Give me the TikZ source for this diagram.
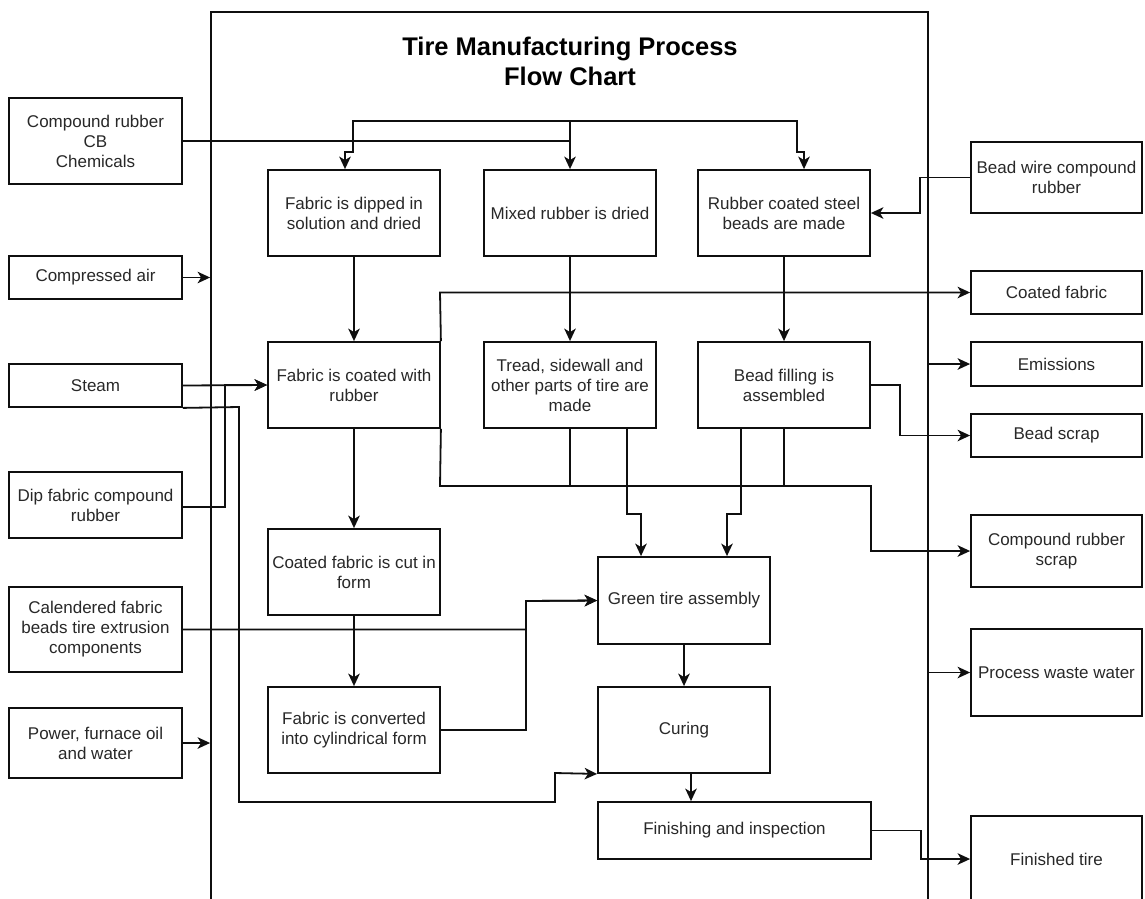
\documentclass[tikz,border=0pt]{standalone}
\usepackage{fontspec}
\setmainfont{Liberation Sans}
\usetikzlibrary{arrows.meta}
\definecolor{txt}{RGB}{40,40,40}
\definecolor{ln}{RGB}{15,15,15}
\begin{document}
\begin{tikzpicture}[x=1pt,y=-1pt,
  box/.style={draw=ln, line width=1.8pt, inner sep=0pt, align=center, text=txt,
    font=\fontsize{17}{20}\selectfont},
  ln/.style={draw=ln, line width=1.8pt},
  arr/.style={ln, -{Stealth[length=12.5pt,width=11.5pt,inset=3.5pt]}}]
\useasboundingbox (0,0) rectangle (1145,898);
\clip (0,0) rectangle (1145,898);
\fill[white] (0,0) rectangle (1145,898);

% frame
\node[draw=ln, line width=1.8pt, inner sep=0pt, minimum width=717pt, minimum height=900pt] (frame) at (569.5,462) {};

% title
\node[align=center, font=\fontsize{25.5}{30}\selectfont\bfseries] (title) at (570,61) {Tire Manufacturing Process\\Flow Chart};

% left inputs
\node[box, minimum width=173pt, minimum height=86pt] (cr) at (95.5,141) {Compound rubber\\CB\\Chemicals};
\node[box, minimum width=173pt, minimum height=43pt] (air) at (95.5,277.5) {Compressed air};
\node[box, minimum width=173pt, minimum height=43pt] (steam) at (95.5,385.5) {Steam};
\node[box, minimum width=173pt, minimum height=66pt] (dip) at (95.5,505) {Dip fabric compound\\rubber};
\node[box, minimum width=173pt, minimum height=85pt] (cal) at (95.5,629.5) {Calendered fabric\\beads tire extrusion\\components};
\node[box, minimum width=173pt, minimum height=70pt] (pow) at (95.5,743) {Power, furnace oil\\and water};

% process boxes
\node[box, minimum width=172pt, minimum height=86pt] (dip2) at (354,213) {Fabric is dipped in\\solution and dried};
\node[box, minimum width=172pt, minimum height=86pt] (mix) at (570,213) {Mixed rubber is dried};
\node[box, minimum width=172pt, minimum height=86pt] (bead) at (784,213) {Rubber coated steel\\beads are made};
\node[box, minimum width=172pt, minimum height=86pt] (coat) at (354,385) {Fabric is coated with\\rubber};
\node[box, minimum width=172pt, minimum height=86pt] (tread) at (570,385) {Tread, sidewall and\\other parts of tire are\\made};
\node[box, minimum width=172pt, minimum height=86pt] (fill) at (784,385) {Bead filling is\\assembled};
\node[box, minimum width=172pt, minimum height=86pt] (cut) at (354,572) {Coated fabric is cut in\\form};
\node[box, minimum width=172pt, minimum height=86pt] (conv) at (354,730) {Fabric is converted\\into cylindrical form};
\node[box, minimum width=172pt, minimum height=87pt] (green) at (684,600.5) {Green tire assembly};
\node[box, minimum width=172pt, minimum height=86pt] (cure) at (684,730) {Curing};
\node[box, minimum width=273pt, minimum height=57pt] (fin) at (734.5,830.5) {Finishing and inspection};

% right outputs
\node[box, minimum width=171pt, minimum height=71pt] (bw) at (1056.5,177.5) {Bead wire compound\\rubber};
\node[box, minimum width=171pt, minimum height=43pt] (cf) at (1056.5,292.5) {Coated fabric};
\node[box, minimum width=171pt, minimum height=44pt] (em) at (1056.5,364) {Emissions};
\node[box, minimum width=171pt, minimum height=43pt] (bs) at (1056.5,435.5) {Bead scrap};
\node[box, minimum width=171pt, minimum height=72pt] (crs) at (1056.5,551) {Compound rubber\\scrap};
\node[box, minimum width=171pt, minimum height=87pt] (pww) at (1056.5,672.5) {Process waste water};
\node[box, minimum width=171pt, minimum height=86pt] (ft) at (1056.5,859) {Finished tire};

% compound rubber distribution
\draw[arr] (cr.east) -- (570,141) -- (570,121) -- (353,121) -- (353,152) -- (345,152) -- ([xshift=-9pt]dip2.north);
\draw[arr] (570,121) -- (mix.north);
\draw[arr] (570,121) -- (797,121) -- (797,152) -- (804,152) -- ([xshift=20pt]bead.north);
\draw[arr] (bw.west) -- (920,177.5) -- (920,213) -- (bead.east);

% vertical flows
\draw[arr] (dip2.south) -- (coat.north);
\draw[arr] (mix.south) -- (tread.north);
\draw[arr] (bead.south) -- (fill.north);
\draw[arr] (coat.south) -- (cut.north);
\draw[arr] (cut.south) -- (conv.north);
\draw[arr] (green.south) -- (cure.north);
\draw[arr] ([xshift=7pt]cure.south) -- ([xshift=7pt]cure.south |- fin.north);

% outputs
\draw[arr] (coat.north east) -- (440,292.5) -- (cf.west);
\draw[arr] (coat.south east) -- (440,486) -- (871,486) -- (871,551) -- (crs.west);
\draw[ln] (tread.south) -- (570,486);
\draw[ln] (fill.south) -- (784,486);
\draw[arr] (fill.east) -- (900,385) -- (900,435.5) -- (bs.west);
\draw[arr] (em.west -| frame.east) -- (em.west);
\draw[arr] (pww.west -| frame.east) -- (pww.west);
\draw[arr] (fin.east) -- (921,830.5) -- (921,859) -- (ft.west);

% into green tire
\draw[arr] ([xshift=57pt]tread.south) -- (627,514) -- (641,514) -- ([xshift=-43pt]green.north);
\draw[arr] ([xshift=-43pt]fill.south) -- (741,514) -- (727,514) -- ([xshift=43pt]green.north);
\draw[arr] (conv.east) -- (526,730) -- (526,601) -- (green.west);
\draw[arr] (cal.east) -- (526,629.5) -- (526,601) -- (green.west);

% left inputs
\draw[arr] (air.east) -- (air.east -| frame.west);
\draw[arr] (pow.east) -- (pow.east -| frame.west);
\draw[arr] (steam.east) -- (coat.west);
\draw[arr] ([yshift=-2pt]dip.east) -- (225,507) -- (225,385) -- (coat.west);
\draw[arr] (steam.south east) -- (239,407) -- (239,802) -- (555,802) -- (555,773) -- (cure.south west);
\end{tikzpicture}
\end{document}
